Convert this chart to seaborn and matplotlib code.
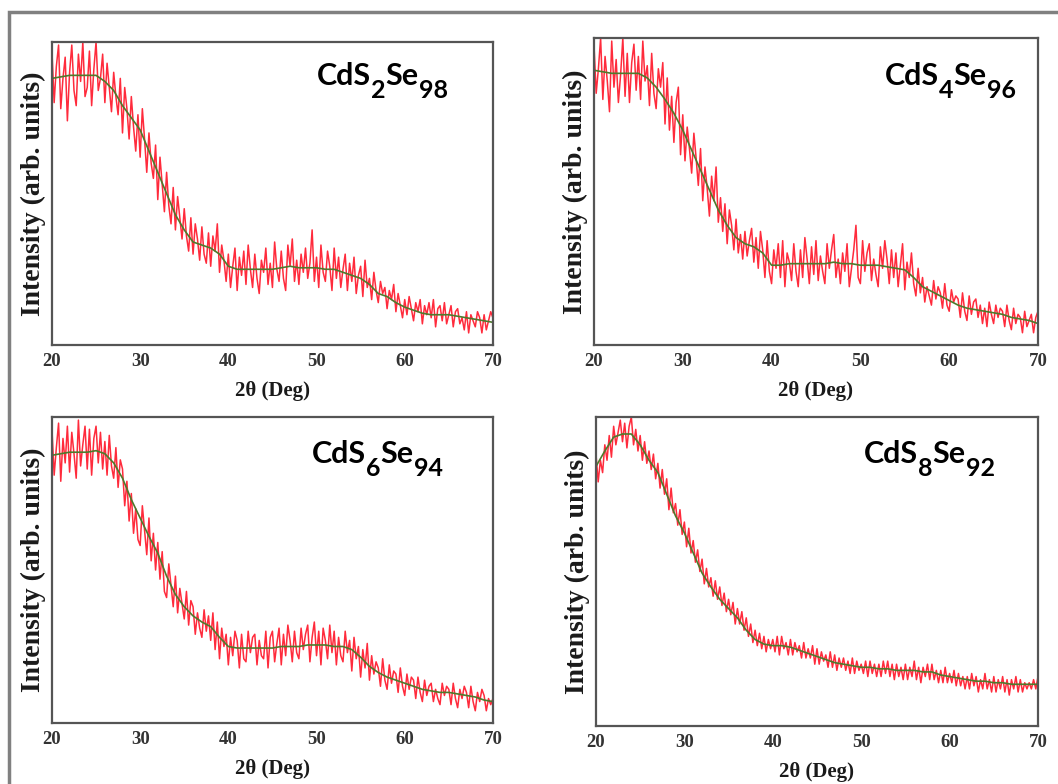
import numpy as np
import matplotlib
matplotlib.use("Agg")
import matplotlib.pyplot as plt
from matplotlib.patches import Rectangle
import seaborn as sns

# 2theta grid of the scans (0.25 deg step) and of the smoothed curves (1 deg)
two_theta = np.linspace(20, 70, 201)
two_theta_fit = np.arange(20, 71)

# sample names as (text, is_subscript) pieces
labels = [[("CdS", False), ("2", True), ("Se", False), ("98", True)],
          [("CdS", False), ("4", True), ("Se", False), ("96", True)],
          [("CdS", False), ("6", True), ("Se", False), ("94", True)],
          [("CdS", False), ("8", True), ("Se", False), ("92", True)]]

# raw intensity (arb. units), 4 points per degree
raw_s2 = [97, 80, 92, 99, 78, 88, 95, 74, 90, 99, 84, 79, 96, 87, 100, 82,
          85, 97, 79, 91, 100, 84, 88, 96, 80, 93, 85, 77, 90, 82, 76, 88,
          70, 85, 78, 68, 82, 72, 64, 76, 62, 78, 68, 57, 70, 60, 55, 66,
          48, 62, 53, 44, 57, 46, 40, 52, 38, 49, 42, 35, 45, 36, 31, 42,
          30, 40, 35, 28, 39, 30, 27, 37, 26, 36, 31, 40, 24, 33, 28, 21,
          30, 19, 26, 32, 18, 29, 23, 31, 20, 33, 25, 19, 30, 22, 17, 28,
          24, 32, 20, 27, 19, 34, 25, 21, 31, 22, 18, 33, 26, 35, 21, 28,
          20, 30, 24, 32, 22, 27, 38, 21, 29, 19, 33, 24, 21, 31, 26, 18,
          32, 22, 29, 19, 25, 30, 18, 27, 21, 29, 17, 23, 26, 16, 28, 19,
          22, 15, 24, 18, 14, 21, 17, 19, 12, 18, 15, 20, 11, 17, 13, 9,
          15, 10, 16, 12, 8, 14, 11, 15, 7, 13, 10, 14, 9, 15, 6, 12,
          13, 8, 14, 7, 10, 13, 6, 11, 12, 7, 9, 5, 11, 4, 10, 8,
          6, 11, 9, 4, 10, 5, 8, 11, 9]
raw_s4 = [98, 82, 90, 100, 80, 94, 86, 76, 99, 84, 93, 79, 88, 100, 81, 95,
          79, 92, 98, 83, 94, 80, 99, 86, 91, 78, 95, 82, 77, 90, 84, 92,
          72, 87, 70, 81, 66, 79, 84, 62, 75, 60, 71, 64, 56, 69, 61, 52,
          64, 47, 58, 51, 42, 55, 47, 58, 40, 48, 37, 46, 33, 44, 39, 31,
          41, 30, 36, 28, 37, 29, 34, 38, 27, 35, 25, 37, 31, 22, 34, 24,
          20, 31, 25, 33, 22, 34, 19, 30, 27, 21, 33, 24, 19, 31, 22, 35,
          28, 20, 32, 23, 34, 21, 29, 24, 20, 33, 25, 31, 36, 22, 28, 20,
          30, 24, 33, 19, 25, 31, 39, 22, 20, 34, 24, 30, 33, 21, 28, 23,
          19, 32, 25, 34, 28, 20, 31, 22, 30, 19, 26, 33, 18, 27, 22, 30,
          20, 16, 25, 17, 22, 14, 19, 16, 13, 21, 15, 19, 17, 12, 20, 13,
          11, 18, 14, 16, 15, 9, 17, 11, 8, 16, 10, 14, 15, 9, 13, 7,
          12, 6, 14, 10, 7, 13, 9, 12, 11, 6, 13, 8, 5, 12, 7, 10,
          9, 4, 11, 6, 8, 10, 4, 9, 11]
raw_s6 = [96, 81, 90, 98, 79, 93, 85, 97, 82, 95, 88, 80, 99, 84, 91, 97,
          83, 96, 81, 93, 97, 85, 95, 83, 92, 81, 94, 84, 80, 90, 77, 86,
          83, 71, 79, 66, 75, 62, 70, 60, 58, 71, 63, 55, 67, 53, 62, 50,
          59, 47, 56, 43, 41, 52, 45, 38, 48, 36, 44, 39, 34, 43, 32, 40,
          38, 29, 36, 31, 28, 37, 30, 35, 27, 36, 24, 33, 21, 31, 25, 29,
          19, 28, 22, 30, 27, 18, 29, 21, 20, 30, 23, 28, 29, 19, 27, 22,
          21, 30, 18, 28, 30, 20, 26, 31, 19, 29, 22, 32, 27, 20, 30, 23,
          21, 31, 24, 29, 32, 20, 28, 33, 22, 30, 19, 31, 27, 21, 32, 23,
          30, 19, 28, 22, 20, 30, 23, 27, 17, 28, 21, 25, 15, 24, 18, 26,
          14, 22, 16, 20, 18, 12, 21, 14, 11, 19, 13, 17, 16, 10, 18, 12,
          9, 16, 11, 15, 14, 8, 15, 10, 7, 14, 9, 12, 13, 7, 11, 8,
          6, 13, 9, 12, 11, 6, 13, 8, 5, 11, 8, 12, 10, 5, 12, 7,
          4, 10, 7, 11, 9, 4, 8, 6, 8]
raw_s8 = [88, 79, 86, 82, 91, 86, 94, 87, 97, 91, 95, 99, 92, 98, 90, 97,
          100, 91, 96, 89, 94, 86, 92, 85, 89, 83, 88, 80, 85, 77, 83, 75,
          80, 70, 77, 69, 72, 65, 70, 62, 66, 58, 64, 56, 60, 53, 57, 50,
          54, 46, 51, 45, 48, 42, 47, 41, 45, 39, 43, 37, 41, 36, 40, 33,
          38, 33, 37, 31, 35, 29, 33, 27, 31, 26, 30, 25, 29, 24, 28, 25,
          28, 24, 29, 23, 29, 25, 27, 23, 28, 23, 27, 24, 26, 22, 27, 22,
          25, 22, 26, 20, 25, 20, 24, 21, 23, 19, 24, 19, 23, 18, 22, 19,
          22, 18, 21, 17, 22, 17, 21, 18, 20, 17, 21, 16, 21, 17, 20, 16,
          20, 16, 21, 17, 21, 16, 20, 15, 20, 16, 19, 15, 20, 15, 19, 16,
          21, 15, 19, 14, 19, 16, 20, 15, 20, 15, 18, 14, 18, 14, 19, 14,
          17, 14, 18, 13, 17, 13, 16, 12, 16, 12, 17, 13, 16, 11, 15, 12,
          17, 12, 15, 11, 16, 11, 15, 12, 16, 11, 15, 10, 15, 12, 16, 11,
          15, 11, 14, 12, 14, 12, 15, 12, 16]

# smoothed curve, one point per degree
fit_s2 = [88, 88.5, 89, 89, 89, 89, 87, 84, 79, 75, 71, 64, 57, 50, 43, 38, 34,
          33, 32, 30, 26, 25, 25, 25, 25, 25, 25.5, 26, 25.5, 25.5, 25.5, 25,
          25, 24, 23, 22, 20, 17, 16, 14, 12.5, 11.5, 10.5, 10, 10, 10, 9.5,
          9, 8.5, 8, 7.5]
fit_s4 = [89.5, 89, 88.5, 88.5, 88.5, 88.5, 87, 84, 80, 75.5, 70, 63.5, 57,
          50.5, 44, 39, 35, 33, 32, 30, 26, 26, 26.5, 26.5, 26.5, 26.5, 26.5,
          27, 26.5, 26.5, 26, 26, 26, 25.5, 25, 24.5, 22, 19, 17.5, 16, 14.5,
          13, 12, 11.5, 11, 10.5, 10, 9, 8.5, 8, 7]
fit_s6 = [87.5, 88, 88.5, 88.5, 88.5, 89, 88, 85, 80, 73, 67, 61, 55.5, 48,
          42, 38, 35, 33, 31.5, 28, 25, 24.5, 24.5, 24.5, 24.5, 24.5, 25, 25,
          25, 25.5, 25.5, 25.5, 25, 25, 24, 21.5, 18.5, 16.5, 15, 14, 13, 12,
          11, 10.5, 10, 10, 9.5, 9, 8.5, 7.5, 7]
fit_s8 = [84, 89, 93.5, 94.5, 94.5, 91, 86, 82, 75, 68, 62.5, 56, 49.5, 45,
          41, 38, 35, 31, 28, 26.5, 26, 26, 25.5, 24.5, 23.5, 22.5, 21.5, 20.5,
          20, 19.5, 19, 19, 18.5, 18.5, 18, 18, 18, 17.5, 17.5, 16.5, 16, 15.5,
          15, 14.5, 14.5, 14, 14, 13.5, 13.5, 13.5, 13.5]

raw_all = [raw_s2, raw_s4, raw_s6, raw_s8]
fit_all = [fit_s2, fit_s4, fit_s6, fit_s8]

sns.set_style("white")
plt.rcParams["font.family"] = ["Liberation Serif", "DejaVu Serif"]

fig = plt.figure(figsize=(10.58, 7.84), dpi=100)

# axes boxes in figure fractions
boxes = [[0.0491, 0.5599, 0.4168, 0.3865],
         [0.5614, 0.5599, 0.4197, 0.3916],
         [0.0491, 0.0778, 0.4168, 0.3903],
         [0.5633, 0.0740, 0.4178, 0.3941]]
label_pos = [(0.601, 0.858), (0.655, 0.847), (0.590, 0.850), (0.606, 0.851)]


def formula(ax, x, y, pieces):
    # chain pieces left to right, dropping the subscripts below the baseline
    prev = ax.text(x, y, pieces[0][0], transform=ax.transAxes, family="Lato",
                   fontweight="bold", fontsize=22, color="black",
                   va="baseline", ha="left")
    for txt, sub in pieces[1:]:
        prev = ax.annotate(txt, xy=(1, 0), xycoords=prev,
                           xytext=(0, -8.5 if sub else 8.5),
                           textcoords="offset points", family="Lato",
                           fontweight="bold", fontsize=18 if sub else 22,
                           color="black", va="bottom", ha="left")


for i in range(4):
    ax = fig.add_axes(boxes[i])
    sns.lineplot(x=two_theta, y=raw_all[i], ax=ax, color="#ff2b3c", lw=1.1,
                 estimator=None)
    sns.lineplot(x=two_theta_fit, y=fit_all[i], ax=ax, color="#4d7a2c", lw=1.2,
                 estimator=None)
    ax.set_xlim(20, 70)
    ax.set_ylim(0, 100)
    ax.set_xticks([20, 30, 40, 50, 60, 70])
    ax.set_yticks([])
    ax.tick_params(axis="x", direction="in", length=4, width=1.2,
                   colors="#333333", labelsize=13.5, pad=6)
    for t in ax.get_xticklabels():
        t.set_fontweight("bold")
    for s in ax.spines.values():
        s.set_color("#555555")
        s.set_linewidth(1.6)
    ax.set_xlabel("2θ (Deg)", fontsize=15, fontweight="bold", color="#1a1a1a",
                  labelpad=8)
    ax.set_ylabel("Intensity (arb. units)", fontsize=20, fontweight="bold",
                  color="#1a1a1a", labelpad=4)
    formula(ax, label_pos[i][0], label_pos[i][1], labels[i])

# grey frame of the original picture (left and top edges)
fig.add_artist(Rectangle((9 / 1058, -0.1), 1.2, 1.1 - 12.5 / 784,
                         transform=fig.transFigure, fill=False,
                         edgecolor="#808080", lw=2.5, clip_on=False))

fig.savefig("out.png", dpi=100)
